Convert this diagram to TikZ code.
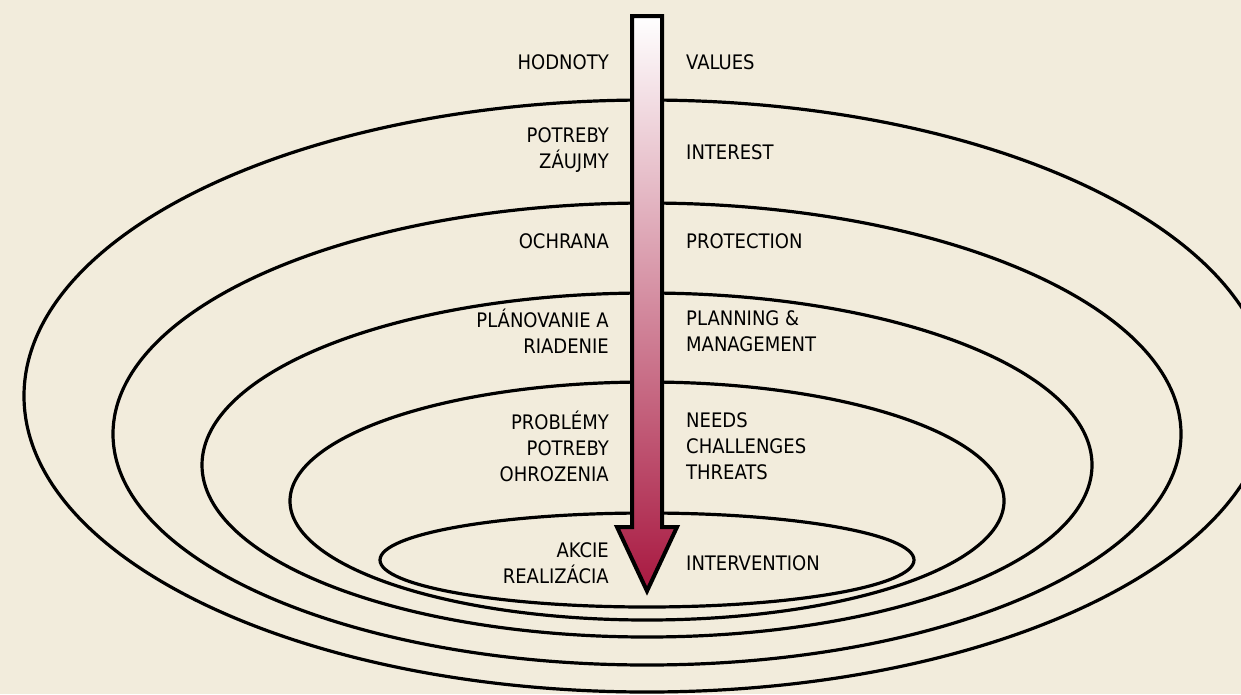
\documentclass[tikz,border=0pt]{standalone}
\usepackage{fontspec}
\setmainfont{DejaVu Sans Condensed}
\usetikzlibrary{positioning}
\definecolor{paper}{RGB}{242,236,220}
\definecolor{wine}{RGB}{168,24,64}
\tikzset{
  ring/.style={line width=3.2pt, draw=black},
  lefttxt/.style={anchor=east, align=right, font=\fontsize{20}{26}\selectfont, inner sep=0pt},
  righttxt/.style={anchor=west, align=left, font=\fontsize{20}{26}\selectfont, inner sep=0pt},
}
\begin{document}
\begin{tikzpicture}[x=1pt,y=1pt,yscale=-1,xscale=1]
% Background
\fill [paper] (0,0) rectangle (1241,694);
\useasboundingbox (0,0) rectangle (1241,694);
% Shape: Ellipses
\draw [ring] (647,396) ellipse [x radius=623, y radius=296];
\draw [ring] (647,434) ellipse [x radius=534, y radius=231];
\draw [ring] (647,465) ellipse [x radius=445, y radius=172];
\draw [ring] (647,501) ellipse [x radius=357, y radius=119];
\draw [ring] (647,560) ellipse [x radius=267, y radius=47];
% Arrow
\draw [line width=4pt, line join=miter, top color=white, bottom color=wine]
  (632,16) -- (662,16) -- (662,527) -- (677,527) -- (647,591)
  -- (617,527) -- (632,527) -- cycle ;
% Left labels
\node [lefttxt] (hodnoty) at (609,62) {HODNOTY};
\node [lefttxt] (zaujmy) at (609,150) {POTREBY\\ZÁUJMY};
\node [lefttxt] (ochrana) at (609,241) {OCHRANA};
\node [lefttxt] (planovanie) at (609,331) {PLÁNOVANIE A\\RIADENIE};
\node [lefttxt] (problemy) at (609,446) {PROBLÉMY\\POTREBY\\OHROZENIA};
\node [lefttxt] (akcie) at (609,563) {AKCIE\\REALIZÁCIA};
% Right labels
\node [righttxt] (values) at (686,62) {VALUES};
\node [righttxt] (interest) at (686,152) {INTEREST};
\node [righttxt] (protection) at (686,241) {PROTECTION};
\node [righttxt] (planning) at (686,331) {PLANNING \&\\MANAGEMENT};
\node [righttxt] (needs) at (686,446) {NEEDS\\CHALLENGES\\THREATS};
\node [righttxt] (intervention) at (686,563) {INTERVENTION};
\end{tikzpicture}
\end{document}
